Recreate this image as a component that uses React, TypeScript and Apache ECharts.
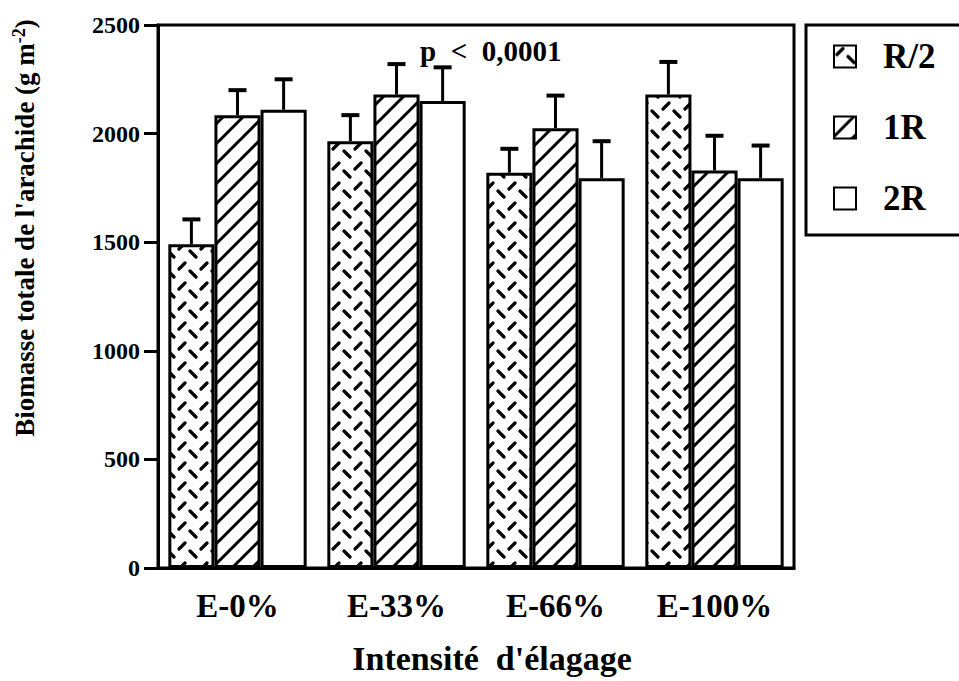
import React, { useEffect, useRef } from "react";
import * as echarts from "echarts";

const categories = ["E-0%", "E-33%", "E-66%", "E-100%"];
const seriesNames = ["R/2", "1R", "2R"];
const valuesR2 = [1490, 1965, 1820, 2180];
const upperR2 = [1605, 2085, 1930, 2330];
const values1R = [2085, 2180, 2025, 1830];
const upper1R = [2200, 2320, 2175, 1990];
const values2R = [2110, 2150, 1795, 1795];
const upper2R = [2250, 2305, 1965, 1945];
const yTicks = [0, 500, 1000, 1500, 2000, 2500];

const FONT = "'Liberation Serif', 'Times New Roman', serif";
const CAT_GAP = 0.13;

function svgUrl(svg: string) {
  return "data:image/svg+xml;charset=utf-8," + encodeURIComponent(svg);
}

const hatchSvg =
  "<svg xmlns='http://www.w3.org/2000/svg' width='20' height='20'>" +
  "<rect width='20' height='20' fill='white'/>" +
  "<path d='M-5,5 L5,-5 M0,20 L20,0 M15,25 L25,15' stroke='black' stroke-width='3'/>" +
  "</svg>";

const dashSvg =
  "<svg xmlns='http://www.w3.org/2000/svg' width='22' height='20'>" +
  "<rect width='22' height='20' fill='white'/>" +
  "<path d='M3,9 L9,3 M14,11 L20,17' stroke='black' stroke-width='3.2' stroke-linecap='round'/>" +
  "</svg>";

const fills = [
  { image: svgUrl(dashSvg), repeat: "repeat", imageWidth: 22, imageHeight: 20 },
  { image: svgUrl(hatchSvg), repeat: "repeat", imageWidth: 20, imageHeight: 20 },
  "#ffffff",
];

export default function App() {
  const ref = useRef<HTMLDivElement>(null);
  useEffect(() => {
    const chart = echarts.init(ref.current!, null, { renderer: "svg" });
    const vals = [valuesR2, values1R, values2R];
    const ups = [upperR2, upper1R, upper2R];
    const errData: number[][] = [];
    vals.forEach((arr, s) => {
      arr.forEach((v, c) => errData.push([c, v, ups[s][c], s]));
    });
    const barSeries = seriesNames.map((name, i) => ({
      name,
      type: "bar",
      data: vals[i],
      barGap: "0%",
      barCategoryGap: CAT_GAP * 100 + "%",
      itemStyle: {
        color: fills[i] as any,
        borderColor: "#000",
        borderWidth: 3,
      },
      emphasis: { disabled: true },
      z: 2,
    }));
    chart.setOption({
      animation: false,
      grid: {
        left: 158,
        right: 165,
        top: 25,
        bottom: 113,
        show: true,
        borderColor: "#000",
        borderWidth: 3,
        backgroundColor: "transparent",
      },
      legend: {
        data: seriesNames,
        orient: "vertical",
        left: 806,
        top: 25,
        itemWidth: 22,
        itemHeight: 22,
        itemGap: 36,
        padding: [14, 120, 19, 27],
        borderColor: "#000",
        borderWidth: 3,
        icon: "rect",
        textStyle: {
          fontFamily: FONT,
          fontWeight: "bold",
          fontSize: 35,
          color: "#000",
          padding: [0, 0, 0, 22],
        },
      },
      xAxis: {
        type: "category",
        data: categories,
        axisLine: { lineStyle: { color: "#000", width: 3 } },
        axisTick: { alignWithLabel: true, length: 12, lineStyle: { color: "#000", width: 2 } },
        axisLabel: {
          fontFamily: FONT,
          fontWeight: "bold",
          fontSize: 33,
          color: "#000",
          margin: 21,
        },
        name: "Intensité  d'élagage",
        nameLocation: "middle",
        nameGap: 73,
        nameTextStyle: {
          fontFamily: FONT,
          fontWeight: "bold",
          fontSize: 34,
          color: "#000",
          padding: [0, 0, 0, 32],
        },
      },
      yAxis: {
        type: "value",
        min: yTicks[0],
        max: yTicks[yTicks.length - 1],
        interval: 500,
        axisLine: { show: true, lineStyle: { color: "#000", width: 3 } },
        axisTick: { show: true, length: 14, lineStyle: { color: "#000", width: 3 } },
        splitLine: { show: false },
        axisLabel: {
          fontFamily: FONT,
          fontWeight: "bold",
          fontSize: 24,
          color: "#000",
          margin: 18,
          formatter: (v: number) => String(v),
        },
      },
      graphic: [
        {
          type: "text",
          x: 25,
          y: 228,
          rotation: Math.PI / 2,
          style: {
            text: "Biomasse totale de l'arachide (g m{sup|-2})",
            fontFamily: FONT,
            fontWeight: "bold",
            fontSize: 27,
            fill: "#000",
            align: "center",
            verticalAlign: "middle",
            rich: {
              sup: {
                fontFamily: FONT,
                fontWeight: "bold",
                fontSize: 18,
                verticalAlign: "top",
                lineHeight: 31,
                fill: "#000",
              },
            },
          },
        },
        {
          type: "text",
          x: 420,
          y: 51,
          style: {
            text: "p  <  0,0001",
            fontFamily: FONT,
            fontWeight: "bold",
            fontSize: 29,
            fill: "#000",
            align: "left",
            verticalAlign: "middle",
          },
        },
      ],
      series: [
        ...barSeries,
        {
          type: "custom",
          name: "err",
          data: errData,
          encode: { x: 0, y: 2 },
          z: 3,
          silent: true,
          renderItem: (params: any, api: any) => {
            const c = api.value(0);
            const v = api.value(1);
            const u = api.value(2);
            const s = api.value(3);
            const band = api.size([1, 0])[0];
            const bw = (band * (1 - CAT_GAP)) / 3;
            const p0 = api.coord([c, v]);
            const p1 = api.coord([c, u]);
            const x = p0[0] + (s - 1) * bw;
            return {
              type: "group",
              children: [
                {
                  type: "line",
                  shape: { x1: x, y1: p0[1], x2: x, y2: p1[1] },
                  style: { stroke: "#000", lineWidth: 3 },
                },
                {
                  type: "line",
                  shape: { x1: x - 9, y1: p1[1], x2: x + 9, y2: p1[1] },
                  style: { stroke: "#000", lineWidth: 4 },
                },
              ],
            };
          },
        },
      ],
    } as any);
    return () => chart.dispose();
  }, []);
  return (
    <div
      ref={ref}
      style={{ position: "absolute", left: 0, top: 0, width: 959, height: 681, background: "#fff" }}
    />
  );
}
